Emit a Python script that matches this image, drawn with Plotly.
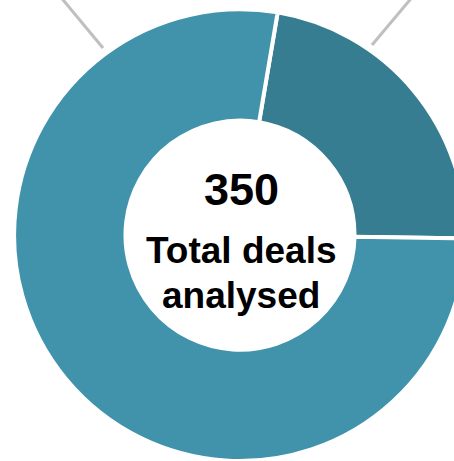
import plotly.graph_objects as go

# Deal split shown as a donut with the total in the centre
segments = ["Segment B", "Segment A"]
deal_counts = [79, 271]
segment_colors = ["#367D91", "#4193AC"]

total_deals = sum(deal_counts)
centre_caption = ["Total deals", "analysed"]

W, H = 466, 461
cx, cy = 240, 235  # donut centre in pixels

fig = go.Figure(
    go.Pie(
        labels=segments,
        values=deal_counts,
        hole=0.507,
        sort=False,
        direction="clockwise",
        rotation=9.6,
        textinfo="none",
        hoverinfo="label+value+percent",
        marker=dict(colors=segment_colors, line=dict(color="white", width=4)),
        domain=dict(x=[14 / W, 1.0], y=[0.0, 0.98]),
    )
)

font_family = "Arial, Liberation Sans, sans-serif"


def px(x):
    return x / W


def py(y):
    return 1 - y / H


fig.add_annotation(
    x=px(cx + 1), y=py(189), xref="paper", yref="paper",
    text=f"<b>{total_deals}</b>", showarrow=False,
    xanchor="center", yanchor="middle",
    font=dict(family=font_family, size=45, color="black"),
)
fig.add_annotation(
    x=px(cx + 2), y=py(250), xref="paper", yref="paper",
    text=f"<b>{centre_caption[0]}</b>", showarrow=False,
    xanchor="center", yanchor="middle",
    font=dict(family=font_family, size=37, color="black"),
)
fig.add_annotation(
    x=px(cx + 1), y=py(295), xref="paper", yref="paper",
    text=f"<b>{centre_caption[1]}</b>", showarrow=False,
    xanchor="center", yanchor="middle",
    font=dict(family=font_family, size=37, color="black"),
)

# leader lines running off to the slice labels above
leader_style = dict(color="#BFBFBF", width=3)
fig.add_shape(type="line", xref="paper", yref="paper",
              x0=px(59), y0=py(-5), x1=px(103), y1=py(48), line=leader_style)
fig.add_shape(type="line", xref="paper", yref="paper",
              x0=px(414), y0=py(-5), x1=px(372), y1=py(45), line=leader_style)

fig.update_layout(
    width=W, height=H,
    margin=dict(l=0, r=0, t=0, b=0),
    showlegend=False,
    paper_bgcolor="white",
    plot_bgcolor="white",
)

fig.write_html("out.html")
